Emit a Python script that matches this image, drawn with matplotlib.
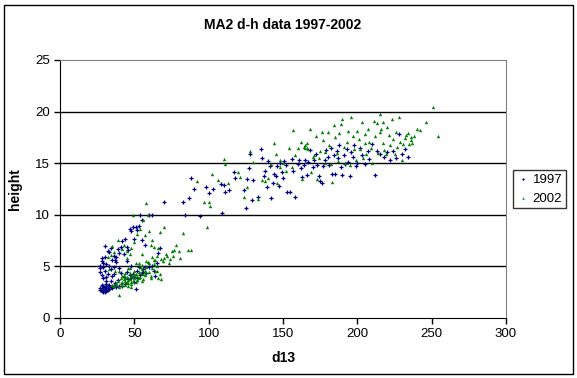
import matplotlib.pyplot as plt
from matplotlib.patches import Rectangle

plt.rcParams['font.family'] = ['Liberation Sans', 'DejaVu Sans']

# 1997 measurements (d13, height)
d_1997 = [27, 28, 28, 29, 29, 30, 30, 31, 31, 32, 32, 33, 33, 34, 35, 36, 37, 38, 40, 42, 27, 29, 30, 31, 28,
          27, 27, 27, 28, 28, 28, 29, 29, 30, 30, 31, 31, 32, 32, 30, 33, 34, 34, 35, 36, 33, 36, 37, 38, 39,
          40, 41, 42, 44, 46, 45, 47, 48, 49, 50, 51, 52, 53, 54, 55, 57, 55, 60, 62, 84, 94,
          43, 45, 46, 47, 48, 49, 50, 50, 51, 52, 53, 54, 55, 56, 57, 58, 60, 62, 63, 64, 66, 67, 65, 48,
          45, 43, 38, 40, 34, 35, 37, 39, 41, 44, 29, 31, 36, 52, 56,
          70, 83, 87, 88, 90, 98, 100, 103, 108, 109, 110, 111, 114, 117, 118, 124, 125, 126, 127, 128,
          129, 130, 133, 135, 136, 137, 138, 139, 140, 141, 142, 143, 144, 145, 146, 147, 148, 149, 150,
          151, 152, 153, 155, 156, 157, 158, 160, 161, 162, 163, 164, 165, 166, 167, 168, 170, 171, 172,
          173, 174, 175, 176, 177, 178, 179, 180, 181, 182, 183, 184, 185, 186, 187, 188, 189, 190, 191,
          192, 193, 194, 195, 196, 197, 198, 199, 200, 202, 203, 205, 207, 208, 210, 212, 213, 215, 218,
          220, 222, 224, 226, 228, 230, 232, 234]
h_1997 = [2.7, 2.6, 2.9, 2.5, 2.8, 2.7, 3.0, 2.6, 2.9, 2.7, 3.1, 2.8, 3.2, 3.0, 2.9, 3.1, 3.2, 3.0, 3.1, 3.1,
          2.9, 3.1, 2.5, 3.3, 3.2,
          4.8, 4.5, 5.0, 4.2, 5.5, 5.8, 4.9, 5.3, 4.6, 5.9, 4.0, 5.2, 4.3, 6.5, 7.0, 5.0, 6.8, 4.7, 5.6, 6.0,
          6.4, 4.9, 5.6, 5.9, 6.7, 6.3, 6.9, 7.5, 7.7, 6.6, 6.9, 8.6, 8.4, 8.8, 7.7, 8.8, 8.5, 8.9, 10.0, 7.6,
          7.1, 9.5, 10.0, 10.0, 10.0, 9.85,
          4.0, 4.5, 3.8, 4.2, 3.9, 4.3, 3.5, 4.0, 2.8, 4.6, 4.9, 4.2, 4.4, 4.5, 4.9, 4.4, 4.9, 5.0, 4.6, 4.1,
          6.3, 6.8, 5.3, 5.0, 5.5, 6.2, 5.4, 4.8, 3.6, 4.1, 3.4, 3.7, 4.4, 3.3, 3.9, 3.6, 4.3, 3.9, 4.7,
          11.2, 11.2, 11.6, 13.6, 12.5, 12.7, 12.1, 12.5, 13.0, 10.2, 12.9, 12.2, 12.4, 14.1, 13.6, 12.4,
          10.7, 13.5, 14.5, 15.9, 11.4, 13.4, 11.7, 16.4, 15.5, 13.8, 14.2, 12.7, 15.2, 14.7, 11.6, 13.1,
          14.0, 13.8, 14.7, 12.8, 15.0, 14.1, 13.6, 15.2, 14.8, 12.2, 12.2, 15.4, 14.2, 11.7, 14.9, 15.3,
          14.5, 13.7, 14.8, 15.3, 13.9, 15.1, 16.3, 14.6, 15.3, 15.9, 14.8, 13.8, 13.3, 13.1, 14.7, 15.3,
          16.3, 15.6, 14.8, 16.5, 14.0, 15.8, 14.0, 16.2, 15.5, 16.8, 14.6, 13.9, 15.8, 14.9, 16.4, 15.1,
          13.8, 16.1, 15.6, 16.8, 14.7, 15.0, 16.5, 15.8, 14.9, 16.2, 15.4, 16.9, 13.9, 16.2, 15.9, 15.6,
          16.1, 15.3, 16.2, 15.5, 17.8, 15.9, 16.4, 15.6]

# 2002 measurements (d13, height)
d_2002 = [40, 36, 38, 40, 42, 43, 44, 45, 46, 47, 48, 49, 50, 51, 52, 53, 54, 55, 56, 57, 58, 60, 61, 62,
          63, 64, 65, 66, 67, 68, 69, 70, 72, 73, 74, 75, 76, 77, 78, 80, 81, 83, 86, 88, 44, 46, 48, 41,
          35, 37, 33, 32, 34, 35, 39, 42, 45, 47, 49, 50, 52, 54, 55, 56, 57, 58, 59, 60, 61, 62, 63, 65,
          67, 70, 45, 43, 53, 58, 64, 71, 66, 36, 48,
          38, 39, 41, 42, 43, 44, 45, 46, 47, 48, 49, 50, 51, 52, 53, 54, 55, 56, 57, 44, 46, 48, 50,
          52, 54, 40, 42, 47, 51, 55, 59, 61, 63, 65, 68, 57, 60, 62,
          92, 97, 99, 100, 101, 102, 106, 110, 111, 113, 120, 121, 124, 126, 128, 130, 133, 136, 138, 140,
          142, 144, 145, 146, 148, 150, 152, 154, 156, 157, 158, 160, 162, 163, 164, 165, 166, 167, 168,
          169, 170, 171, 172, 173, 174, 175, 176, 177, 178, 180, 181, 182, 183, 184, 185, 186, 187, 188,
          189, 190, 191, 192, 193, 194, 195, 196, 197, 198, 199, 200, 201, 202, 203, 204, 205, 206, 207,
          208, 209, 210, 211, 212, 213, 214, 215, 216, 217, 218, 219, 220, 221, 222, 223, 224, 225, 226,
          227, 228, 229, 230, 231, 232, 233, 234, 235, 236, 237, 238, 240, 242, 246, 251, 254,
          165, 166, 215, 217, 205, 148, 236, 178]
h_2002 = [2.2, 3.1, 3.4, 3.0, 3.5, 3.8, 3.6, 4.0, 3.4, 3.8, 4.1, 3.6, 3.9, 4.3, 3.7, 4.5, 4.0, 4.7, 3.8, 4.2,
          4.9, 4.5, 4.1, 4.8, 5.2, 4.6, 5.0, 3.9, 4.3, 3.8, 5.5, 5.8, 6.0, 5.3, 5.7, 6.5, 6.0, 6.6, 7.1, 6.5,
          5.8, 8.2, 6.6, 6.6, 4.4, 3.1, 3.3, 3.4, 3.2, 4.6, 4.7, 5.9, 6.1, 7.0, 7.6, 6.7, 5.8, 6.2, 10.0, 7.4,
          8.1, 8.6, 6.2, 9.5, 8.0, 11.1, 10.0, 8.4, 7.1, 7.6, 6.9, 6.0, 8.3, 8.8, 6.5, 7.1, 5.3, 5.5, 5.6,
          6.2, 6.8, 6.4, 6.8,
          3.3, 3.6, 3.9, 3.2, 4.2, 3.9, 3.5, 3.7, 4.4, 3.5, 4.2, 4.6, 3.5, 4.1, 3.9, 4.4, 3.6, 4.3, 4.6,
          3.2, 4.8, 3.0, 4.2, 3.7, 4.9, 4.6, 4.1, 4.8, 5.3, 5.1, 5.4, 3.9, 5.6, 4.6, 5.7, 4.5, 5.3, 5.9,
          13.3, 11.2, 8.8, 11.2, 10.9, 14.0, 13.4, 15.4, 14.9, 13.1, 14.1, 13.7, 11.7, 12.7, 16.2, 15.1,
          11.5, 13.4, 13.3, 13.6, 14.9, 17.0, 15.9, 13.1, 15.3, 15.0, 14.2, 16.5, 14.6, 18.2, 15.8, 16.5,
          17.1, 13.5, 16.6, 16.8, 17.0, 16.4, 18.3, 14.1, 15.6, 15.8, 17.6, 13.5, 15.5, 16.2, 18.0, 17.2,
          15.0, 18.0, 16.8, 14.9, 13.2, 18.7, 17.5, 16.0, 15.2, 17.9, 18.8, 19.3, 16.6, 15.0, 17.1, 18.1,
          14.8, 19.5, 17.6, 16.4, 15.3, 18.1, 17.3, 16.4, 19.0, 15.5, 17.8, 15.9, 18.3, 17.1, 16.5, 15.0,
          19.1, 17.6, 18.9, 16.0, 19.8, 18.3, 17.0, 16.3, 15.9, 18.5, 17.7, 16.8, 19.3, 17.3, 15.9, 18.0,
          16.6, 19.5, 17.1, 15.3, 16.9, 17.4, 17.7, 17.9, 16.9, 17.2, 17.0, 17.6, 18.3, 18.2, 19.0, 20.4,
          17.6,
          16.5, 16.5, 18.0, 19.0, 17.0, 14.6, 17.5, 16.1]

fig = plt.figure(figsize=(5.77, 3.78), dpi=100)
ax = fig.add_axes([60 / 577, 1 - 318 / 378, 446 / 577, 258 / 378])

ax.scatter(d_1997, h_1997, marker='+', s=6, linewidths=0.9, color='#000080', label='1997', zorder=3)
ax.scatter(d_2002, h_2002, marker='^', s=6, linewidths=0, color='#008000', label='2002', zorder=3)

ax.set_xlim(0, 300)
ax.set_ylim(0, 25)
ax.set_xticks(range(0, 301, 50))
ax.set_yticks(range(0, 26, 5))
for y in [5, 10, 15, 20]:
    ax.axhline(y, color='black', lw=1, zorder=1)

for s in ['top', 'right']:
    ax.spines[s].set_color('#808080')
for s in ['left', 'bottom']:
    ax.spines[s].set_color('black')
ax.tick_params(direction='out', length=4, width=1, labelsize=9.5, pad=3)

ax.set_title('MA2 d-h data 1997-2002', fontsize=10, fontweight='bold', pad=22)
ax.set_xlabel('d13', fontsize=10, fontweight='bold', labelpad=8)
ax.set_ylabel('height', fontsize=10, fontweight='bold', labelpad=10)

leg = ax.legend(loc='center left', bbox_to_anchor=(1.015, 0.5), frameon=True, fancybox=False,
                edgecolor='black', fontsize=9.5, handletextpad=0.2, handlelength=1.0,
                borderpad=0.3, markerscale=0.7, borderaxespad=0)
leg.get_frame().set_linewidth(1)

fig.patches.append(Rectangle((4 / 577, 4 / 378), 569 / 577, 369 / 378, transform=fig.transFigure,
                             fill=False, edgecolor='black', lw=1))

fig.savefig('out.png', dpi=100)
